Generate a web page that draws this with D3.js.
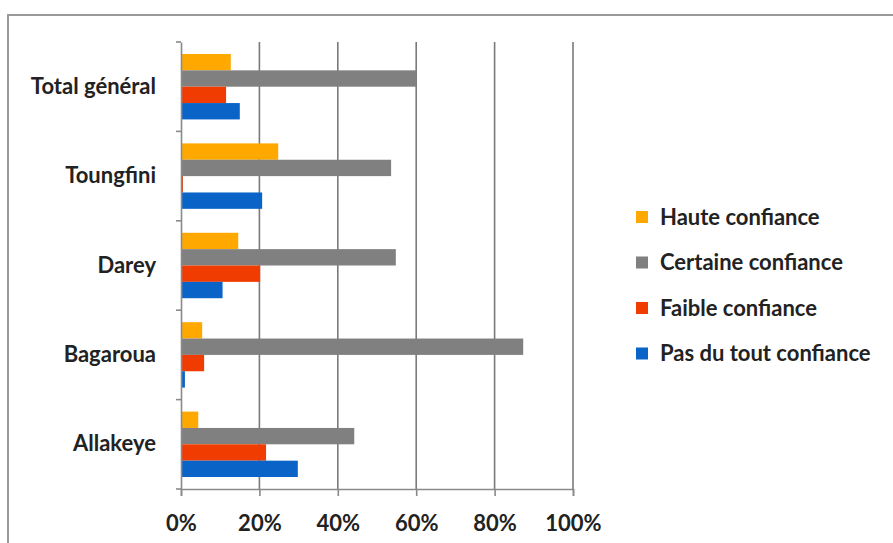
<!DOCTYPE html>
<html>
<head>
<meta charset="utf-8">
<script src="https://cdn.jsdelivr.net/npm/d3@7"></script>
<style>
  html, body { margin: 0; padding: 0; background: #fff; }
  svg { display: block; }
  text { font-family: Lato, "Open Sans", sans-serif; fill: #222; }
</style>
</head>
<body>
<svg id="chart" width="893" height="543"></svg>
<script>
// Sites, listed from top to bottom
const categories = ["Total général", "Toungfini", "Darey", "Bagaroua", "Allakeye"];
// Confidence levels (series), in bar order within each group
const seriesNames = ["Haute confiance", "Certaine confiance", "Faible confiance", "Pas du tout confiance"];
const seriesColors = ["#FFA800", "#808080", "#F03C00", "#0A64C8"];
// Share of respondents per site, one array per level
const haute    = [0.127, 0.248, 0.146, 0.054, 0.044];
const certaine = [0.600, 0.536, 0.548, 0.873, 0.442];
const faible   = [0.115, 0.005, 0.202, 0.059, 0.217];
const pasDuTout = [0.150, 0.207, 0.106, 0.010, 0.298];
const seriesValues = [haute, certaine, faible, pasDuTout];
const xTicks = [0, 0.2, 0.4, 0.6, 0.8, 1.0];

const FONT_SIZE = "22px";
const svg = d3.select("#chart");

// Outer chart frame
svg.append("rect")
  .attr("x", 8).attr("y", 15)
  .attr("width", 900).attr("height", 540)
  .attr("fill", "none").attr("stroke", "#9a9a9a").attr("stroke-width", 2);

const plot = { left: 181, top: 42, width: 392, height: 447 };
const g = svg.append("g").attr("transform", `translate(${plot.left},${plot.top})`);

const x = d3.scaleLinear().domain([0, 1]).range([0, plot.width]);
const y = d3.scaleBand().domain(categories).range([0, plot.height]).padding(0);
const bw = y.bandwidth();
const inner = d3.scaleBand().domain(seriesNames).range([bw * 0.134, bw * 0.866]).padding(0);

// Vertical gridlines
g.append("g").selectAll("line")
  .data(xTicks.slice(1))
  .join("line")
  .attr("x1", d => x(d)).attr("x2", d => x(d))
  .attr("y1", 0).attr("y2", plot.height)
  .attr("stroke", "#7a7a7a").attr("stroke-width", 1.6);

// Bars
categories.forEach((cat, ci) => {
  const grp = g.append("g").attr("transform", `translate(0,${y(cat)})`);
  grp.selectAll("rect")
    .data(seriesNames.map((s, si) => ({ s, si, v: seriesValues[si][ci] })))
    .join("rect")
    .attr("x", 0)
    .attr("y", d => inner(d.s))
    .attr("width", d => x(d.v))
    .attr("height", inner.bandwidth())
    .attr("fill", d => seriesColors[d.si]);
});

// Category axis
const yAxis = g.append("g")
  .call(d3.axisLeft(y).tickSize(0).tickPadding(25));
yAxis.select(".domain").attr("stroke", "#8a8a8a").attr("stroke-width", 1.6);
yAxis.selectAll("text")
  .style("font-size", FONT_SIZE).style("font-weight", "700").attr("fill", "#222");
// Tick marks on the band boundaries
g.append("g").selectAll("line")
  .data(d3.range(categories.length + 1))
  .join("line")
  .attr("x1", -5).attr("x2", 0)
  .attr("y1", i => i * bw).attr("y2", i => i * bw)
  .attr("stroke", "#8a8a8a").attr("stroke-width", 1.6);

// Value axis
const xAxis = g.append("g")
  .attr("transform", `translate(0,${plot.height})`)
  .call(d3.axisBottom(x).tickValues(xTicks).tickFormat(d3.format(".0%")).tickSize(7).tickPadding(19));
xAxis.select(".domain").attr("stroke", "#8a8a8a").attr("stroke-width", 1.6);
xAxis.selectAll(".tick line").attr("stroke", "#8a8a8a").attr("stroke-width", 1.6);
xAxis.selectAll("text")
  .style("font-size", FONT_SIZE).style("font-weight", "700").attr("fill", "#222");

// Legend
const legend = svg.append("g").attr("transform", "translate(636,217)");
const rowGap = 45.5;
seriesNames.forEach((name, i) => {
  const row = legend.append("g").attr("transform", `translate(0,${i * rowGap})`);
  row.append("rect")
    .attr("x", 0).attr("y", -6).attr("width", 12).attr("height", 12)
    .attr("fill", seriesColors[i]);
  row.append("text")
    .attr("x", 24).attr("y", 0).attr("dy", "0.35em")
    .style("font-size", FONT_SIZE).style("font-weight", "700")
    .text(name);
});
</script>
</body>
</html>
